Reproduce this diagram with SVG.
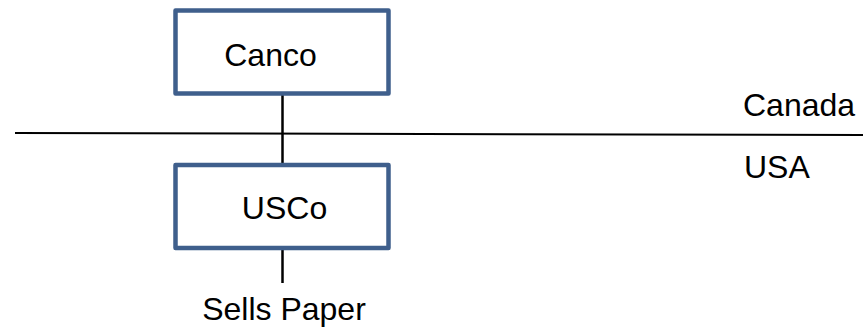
<svg xmlns="http://www.w3.org/2000/svg" width="863" height="335" viewBox="0 0 863 335">
  <style>
    .box { fill: #ffffff; stroke: #3F5F8C; stroke-width: 4.5; stroke-linejoin: round; }
    .wire { stroke: #000000; stroke-width: 2.5; fill: none; }
    .border { stroke: #000000; stroke-width: 2; fill: none; }
    text { font-family: "Liberation Sans", Arial, sans-serif; font-size: 32px; fill: #000000; }
    .mid { text-anchor: middle; }
  </style>
  <rect width="863" height="335" fill="#ffffff"/>

  <!-- border line between countries -->
  <line class="border" x1="15" y1="133" x2="863" y2="135"/>
  <text x="743" y="116" font-size="31.5">Canada</text>
  <text x="744" y="178" font-size="32">USA</text>

  <g id="connectors">
    <line class="wire" x1="282.5" y1="95" x2="282.5" y2="164"/>
    <line class="wire" x1="282.5" y1="249" x2="282.5" y2="283"/>
  </g>

  <g id="canco">
    <rect class="box" x="175.5" y="10.5" width="213" height="83"/>
    <text class="mid" x="270.5" y="66" font-size="33">Canco</text>
  </g>

  <g id="usco">
    <rect class="box" x="175.5" y="165" width="213" height="83"/>
    <text class="mid" x="284.5" y="219" font-size="32">USCo</text>
  </g>

  <g id="sells-paper">
    <text class="mid" x="284" y="320" font-size="31.5">Sells Paper</text>
  </g>
</svg>
